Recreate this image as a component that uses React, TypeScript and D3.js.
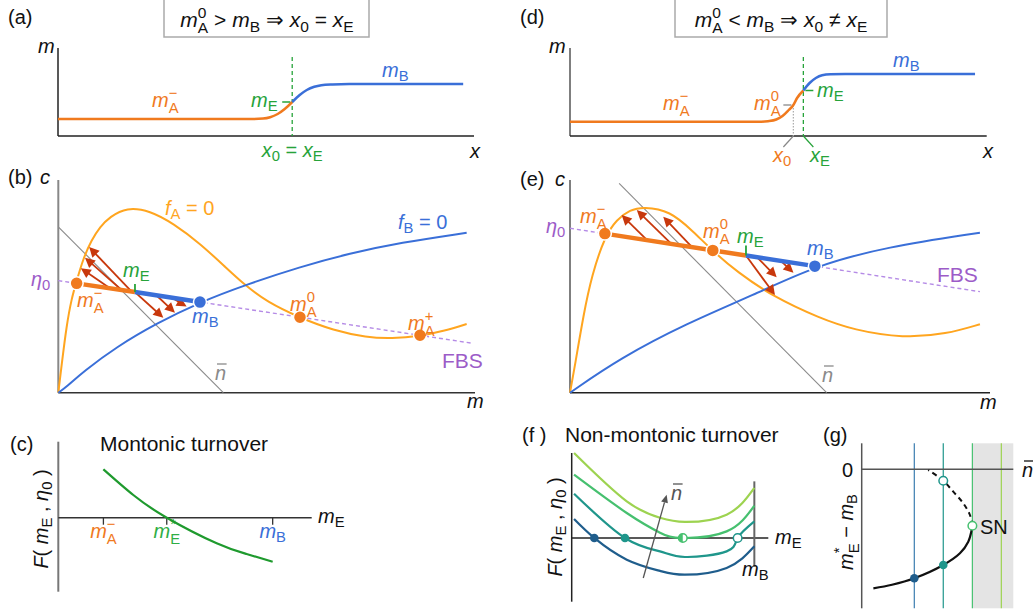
import React from 'react';
import * as d3 from 'd3';

type P = [number, number];

// (a) profile m(x), units: x 0..100 along axis, m in px above axis
const aOrange: P[] = [[0, 17], [47, 17], [49.3, 17.4], [51, 18.8], [52.8, 22], [54.5, 27], [56.3, 34]];
const aBlue: P[] = [[56.3, 34], [58.1, 41], [59.8, 46], [61.6, 49.2], [63.3, 50.8], [66, 51.6], [70, 52], [97.4, 52]];

// (d) profile
const dOrange: P[] = [[0, 14.3], [46, 14.3], [47.5, 14.8], [49.5, 16.5], [51, 20], [52.5, 26], [53.6, 31], [54.5, 38], [56, 45.5]];
const dBlue: P[] = [[56, 45.5], [57.5, 53], [59, 58], [60.5, 60.8], [62.5, 61.8], [66, 62], [97.2, 62]];
const dX0 = 53.6, dXE = 56, dMA0 = 31, dME = 45.5;

// (b) phase plane
const bFA: P[] = [[0, 0], [0.8, 13], [2, 31.8], [3.2, 44.4], [4.4, 52.5], [6, 63.2], [8, 71.8], [10, 78], [12.4, 82.7], [16.4, 87.2], [22, 85.6], [27.6, 79.6], [34, 70.2], [40.4, 58.5], [44.8, 50.6], [50, 42.8], [58, 35.2], [66, 29.3], [74, 26.0], [80, 25.5], [86.8, 26.6], [92.4, 28.9], [98, 32.3]];
const bFB: P[] = [[0, 0], [2, 2.8], [6, 9.9], [14, 21.6], [23.6, 32.6], [34, 42.6], [44.8, 50.6], [58, 59.2], [70, 65.5], [82, 70.5], [98, 75.2]];
const bFBS: P[] = [[0, 52.7], [99.5, 23.2]];
const bNbar: P[] = [[0, 78], [39.6, 0]];
const bMAm: P = [4.4, 51.4], bME: P = [18.4, 47.3], bMB: P = [34, 42.6], bMA0: P = [58, 35.5], bMAp: P = [86.8, 27];
const bArrUp = [[17.6, 47.5, 7.4, 68.5], [15.2, 48.3, 6.4, 63.5], [12.4, 49.1, 5.4, 58.5]];
const bArrDown = [[18.4, 47.3, 25.2, 35.2], [23.6, 45.7, 28.0, 37.6], [27.3, 44.6, 30.8, 40.5]];

// (e) phase plane
const eFA: P[] = [[0, 0], [1.2, 13], [3.2, 36.5], [5.2, 55.3], [8.3, 73.5], [11.1, 81.4], [14.3, 86], [17.5, 87.4], [23.8, 85.6], [29.4, 75.7], [34, 66.6], [39.7, 56.9], [48.4, 45.1], [59.5, 35], [67.5, 29.5], [79.4, 25.6], [89.7, 27.6], [97.6, 32.2]];
const eFB: P[] = [[0, 0], [11.9, 16.2], [27.8, 32.6], [43.7, 45.9], [58.3, 59.6], [75.4, 68.6], [97.6, 75.2]];
const eFBS: P[] = [[0, 77.3], [97.6, 47.5]];
const eNbar: P[] = [[11.7, 98.4], [61.1, 0]];
const eMAm: P = [8.3, 74.8], eMA0: P = [34, 66.9], eME: P = [41.9, 64.5], eMB: P = [58.3, 59.5];
const eArrUp = [[18.3, 71.8, 12.3, 83.5], [24.2, 69.9, 15.9, 85.9], [29.0, 68.6, 22.2, 82.7]];
const eArrDown = [[41.9, 64.5, 48.8, 45.9], [44.8, 63.2, 49.2, 54.3], [50.4, 61.6, 53.2, 56.4]];

// (c) monotonic F
const cCurve: P[] = [[17.8, 48.4], [29.6, 22.7], [42.8, 0], [62.5, -25.6], [74.3, -36.3], [84.6, -44]];
const cTicks = [{ v: 17.8, s: 'm_A^−', c: '#f07a1e' }, { v: 42.8, s: 'm_E^*', c: '#2fae45' }, { v: 84.6, s: 'm_B', c: '#3a6fd8' }];

// (f) non-monotonic F for increasing n-bar
const fColors = ['#1f5d8c', '#1f968b', '#46c06f', '#9dd350'];
const fCurves: P[][] = [
  [[1.2, 17.9], [11.5, 0], [28, -20.4], [44.9, -31], [57.6, -34.6], [78.8, -28.2], [92.9, -7.9]],
  [[1.2, 41.7], [27.1, 0], [44.9, -12.6], [57.6, -17.9], [78.8, -12.6], [84.4, 0], [92.9, 15.6]],
  [[1.2, 59.6], [28, 23.5], [44.9, 5], [56.5, 0], [78.8, 6.2], [92.9, 30.4]],
  [[1.2, 80], [28, 34.5], [44.9, 19], [57.6, 15.1], [78.8, 21.9], [92.9, 47.1]],
];
const fDots = [{ x: 11.5, i: 0, t: 'fill' }, { x: 27.1, i: 1, t: 'fill' }, { x: 56.5, i: 2, t: 'half' }, { x: 84.4, i: 1, t: 'open' }];
const fArrow = [36.4, -37.7, 48.3, 40.8];
const fMB = [92.9, 53.3, -27];

// (g) bifurcation
const gLines = [34.7, 53.8, 73.0, 92.1];
const gSolid: P[] = [[7.7, -119], [20, -115.5], [34.7, -109], [53.8, -95.7], [64.8, -84], [70.3, -72.4], [72.5, -61], [73.0, -56.4]];
const gDashed: P[] = [[73.0, -56.4], [71.4, -45.7], [67.0, -34], [60.4, -22.4], [53.8, -11.4], [43.9, -0.7]];
const gDots = [{ x: 34.7, y: -109, i: 0, open: false }, { x: 53.8, y: -95.7, i: 1, open: false }, { x: 73.0, y: -56.4, i: 2, open: true }, { x: 53.8, y: -11.4, i: 1, open: true }];

const ORANGE = '#f07a1e';
const AMBER = '#ffa51f';
const BLUE = '#3a6fd8';
const GREEN = '#27a33a';
const PURPLE = '#9c5cc8';
const PURPLE_L = '#b58be6';
const RED = '#c8380c';
const GRAY = '#8a8a8a';
const FONT = '"Liberation Sans", Arial, sans-serif';

const W: Record<string, number> = { A: 0.667, B: 0.667, E: 0.667, '0': 0.556, '−': 0.584, '+': 0.584, '*': 0.389 };
const wOf = (s: string) => s.split('').reduce((a, ch) => a + (W[ch] ?? 0.6), 0);
const ITAL = /[mxcfFnη]/;

// tiny math markup: _x subscript, ^x superscript, italic for variable letters
function tex(src: string, fs: number) {
  const ss = fs * 0.74;
  const nodes: React.ReactNode[] = [];
  let i = 0, cur = 0, pend = 0, k = 0;
  const emit = (t: string, size: number, y: number, italic: boolean, dx = 0) => {
    const dy = y - cur;
    cur = y;
    const ddx = dx + pend;
    nodes.push(
      <tspan key={k++} dx={ddx || undefined} dy={dy || undefined} fontSize={size} fontStyle={italic ? 'italic' : 'normal'}>{t}</tspan>
    );
    pend = 0;
  };
  const read = () => {
    if (src[i] === '{') { const j = src.indexOf('}', i); const t = src.slice(i + 1, j); i = j + 1; return t; }
    return src[i++];
  };
  while (i < src.length) {
    const c = src[i];
    if (c === '_' || c === '^') {
      i++;
      let sub: string | null = null, sup: string | null = null;
      if (c === '_') sub = read(); else sup = read();
      if (src[i] === '_' || src[i] === '^') { const c2 = src[i++]; if (c2 === '_') sub = read(); else sup = read(); }
      if (sub && sup) {
        emit(sub, ss, fs * 0.3, false);
        const ws = wOf(sub) * ss, wp = wOf(sup) * ss;
        emit(sup, ss, -fs * 0.45, false, -ws);
        if (ws > wp) pend = ws - wp;
      } else if (sub) emit(sub, ss, fs * 0.22, false);
      else if (sup) emit(sup, ss, -fs * 0.42, false);
    } else {
      let j = i;
      const it = ITAL.test(c);
      while (j < src.length && src[j] !== '_' && src[j] !== '^' && ITAL.test(src[j]) === it) j++;
      emit(src.slice(i, j), fs, 0, it);
      i = j;
    }
  }
  return nodes;
}

const T = ({ x, y, s, size = 20, fill = '#111', anchor = 'start' }: any) => (
  <text x={x} y={y} fontSize={size} fill={fill} textAnchor={anchor} style={{ whiteSpace: 'pre' }}>{tex(s, size)}</text>
);

const NBar = ({ x, y, size = 20, fill = GRAY }: any) => (
  <g>
    <text x={x} y={y} fontSize={size} fontStyle="italic" fill={fill}>n</text>
    <line x1={x + size * 0.1} x2={x + size * 0.58} y1={y - size * 0.8} y2={y - size * 0.8} stroke={fill} strokeWidth={1.3} />
  </g>
);

const Arrow = ({ x1, y1, x2, y2 }: any) => {
  const dx = x2 - x1, dy = y2 - y1, L = Math.hypot(dx, dy), ux = dx / L, uy = dy / L;
  const hl = 10, hw = 5;
  const bx = x2 - ux * hl, by = y2 - uy * hl;
  return (
    <g>
      <line x1={x1} y1={y1} x2={bx + ux} y2={by + uy} stroke={RED} strokeWidth={1.8} />
      <polygon points={`${x2},${y2} ${bx - uy * hw},${by + ux * hw} ${bx + uy * hw},${by - ux * hw}`} fill={RED} />
    </g>
  );
};

const Arrow0 = ({ x1, y1, x2, y2 }: any) => {
  const dx = x2 - x1, dy = y2 - y1, L = Math.hypot(dx, dy), ux = dx / L, uy = dy / L;
  const bx = x2 - ux * 8, by = y2 - uy * 8;
  return (
    <g>
      <line x1={x1} y1={y1} x2={bx} y2={by} stroke="#555" strokeWidth={1.3} />
      <polygon points={`${x2},${y2} ${bx - uy * 3.5},${by + ux * 3.5} ${bx + uy * 3.5},${by - ux * 3.5}`} fill="#555" />
    </g>
  );
};

const Dot = ({ x, y, c, r = 6.5 }: any) => <circle cx={x} cy={y} r={r} fill={c} stroke="#fff" strokeWidth={1.5} />;

const App: React.FC = () => {
  const xA = d3.scaleLinear([0, 100], [58, 474]);
  const yA = d3.scaleLinear([0, 88], [136, 48]);
  const xD = d3.scaleLinear([0, 100], [570, 986.7]);
  const yD = yA;
  const xB = d3.scaleLinear([0, 100], [58.3, 475]);
  const yB = d3.scaleLinear([0, 100], [392.7, 180]);
  const xE = d3.scaleLinear([0, 100], [570, 990]);
  const yE = yB;
  const xC = d3.scaleLinear([0, 100], [58.3, 311.7]);
  const yC = d3.scaleLinear([-74, 76], [591.7, 441.7]);
  const xF = d3.scaleLinear([0, 100], [571.7, 768.3]);
  const yF = d3.scaleLinear([-60, 80], [601.7, 453]);
  const xG = d3.scaleLinear([0, 100], [861.7, 1013.3]);
  const yG = d3.scaleLinear([-139, 26], [608.3, 443.3]);

  const mk = (xs: any, ys: any, curve: any = d3.curveCatmullRom) =>
    d3.line<P>().x(d => xs(d[0])).y(d => ys(d[1])).curve(curve);

  const lineA = mk(xA, yA, d3.curveMonotoneX);
  const lineD = mk(xD, yD, d3.curveMonotoneX);
  const lineB = mk(xB, yB, d3.curveBasis);
  const lineE = mk(xE, yE, d3.curveBasis);
  const lineC = mk(xC, yC, d3.curveNatural);
  const lineF = mk(xF, yF, d3.curveNatural);
  const lineG = mk(xG, yG);
  const straightB = mk(xB, yB, d3.curveLinear);
  const straightE = mk(xE, yE, d3.curveLinear);

  const phase = (xs: any, ys: any, line: any, straight: any, fa: P[], fb: P[], fbs: P[], nb: P[], up: number[][], down: number[][]) => (
    <g>
      <path d={straight(nb)!} fill="none" stroke={GRAY} strokeWidth={1.1} />
      <path d={straight(fbs)!} fill="none" stroke={PURPLE_L} strokeWidth={1.4} strokeDasharray="4,3" />
      <path d={line(fa)!} fill="none" stroke={AMBER} strokeWidth={2} />
      <path d={line(fb)!} fill="none" stroke={BLUE} strokeWidth={2} />
      {up.map((a, i) => <Arrow key={'u' + i} x1={xs(a[0])} y1={ys(a[1])} x2={xs(a[2])} y2={ys(a[3])} />)}
      {down.map((a, i) => <Arrow key={'d' + i} x1={xs(a[0])} y1={ys(a[1])} x2={xs(a[2])} y2={ys(a[3])} />)}
    </g>
  );

  return (
    <svg width={1033} height={612} style={{ position: 'absolute', left: 0, top: 0, fontFamily: FONT }}>
      <rect width={1033} height={612} fill="#fff" />

      {/* ---------- (a) ---------- */}
      <text x={8} y={24} fontSize={20} fill="#111">(a)</text>
      <rect x={164} y={-2} width={205} height={39} fill="#fff" stroke="#aaa" strokeWidth={1.5} />
      <T x={267} y={27} s="m_A^0 > m_B ⇒ x_0 = x_E" size={21} anchor="middle" />
      <line x1={xA(0)} x2={xA(0)} y1={48} y2={136} stroke="#222" strokeWidth={1.5} />
      <line x1={xA(0)} x2={474} y1={136} y2={136} stroke="#222" strokeWidth={1.5} />
      <T x={38} y={53} s="m" />
      <T x={470} y={158} s="x" />
      <line x1={xA(56.3)} x2={xA(56.3)} y1={57} y2={136} stroke={GREEN} strokeWidth={1.3} strokeDasharray="4,3" />
      <path d={lineA(aOrange)!} fill="none" stroke={ORANGE} strokeWidth={2.5} />
      <path d={lineA(aBlue)!} fill="none" stroke={BLUE} strokeWidth={2.5} />
      <line x1={xA(56.3) - 10} x2={xA(56.3) - 2} y1={yA(34)} y2={yA(34)} stroke={GREEN} strokeWidth={1.5} />
      <T x={152} y={107} s="m_A^−" fill={ORANGE} />
      <T x={251} y={107} s="m_E" fill={GREEN} />
      <T x={382} y={77} s="m_B" fill={BLUE} />
      <T x={xA(56.3)} y={157} s="x_0 = x_E" fill={GREEN} anchor="middle" />

      {/* ---------- (d) ---------- */}
      <text x={520} y={24} fontSize={20} fill="#111">(d)</text>
      <rect x={675} y={-2} width={212} height={39} fill="#fff" stroke="#aaa" strokeWidth={1.5} />
      <T x={781} y={27} s="m_A^0 < m_B ⇒ x_0 ≠ x_E" size={21} anchor="middle" />
      <line x1={xD(0)} x2={xD(0)} y1={48} y2={136} stroke="#555" strokeWidth={1.5} />
      <line x1={xD(0)} x2={986.7} y1={136} y2={136} stroke="#222" strokeWidth={1.5} />
      <T x={549} y={53} s="m" />
      <T x={983} y={158} s="x" />
      <line x1={xD(dXE)} x2={xD(dXE)} y1={57} y2={136} stroke={GREEN} strokeWidth={1.3} strokeDasharray="4,3" />
      <line x1={xD(dX0)} x2={xD(dX0)} y1={yD(dMA0)} y2={136} stroke="#aaa" strokeWidth={1.2} strokeDasharray="1.5,1.5" />
      <path d={lineD(dOrange)!} fill="none" stroke={ORANGE} strokeWidth={2.5} />
      <path d={lineD(dBlue)!} fill="none" stroke={BLUE} strokeWidth={2.5} />
      <line x1={xD(dX0) - 10} x2={xD(dX0) - 2} y1={yD(dMA0)} y2={yD(dMA0)} stroke="#999" strokeWidth={1.5} />
      <line x1={xD(dXE) + 2} x2={xD(dXE) + 10} y1={yD(dME)} y2={yD(dME)} stroke={GREEN} strokeWidth={1.5} />
      <line x1={xD(dX0)} x2={xD(dX0) - 10} y1={136} y2={147} stroke="#888" strokeWidth={1.2} />
      <line x1={xD(dXE)} x2={xD(dXE) + 10} y1={136} y2={147} stroke={GREEN} strokeWidth={1.2} />
      <T x={663} y={110} s="m_A^−" fill={ORANGE} />
      <T x={754} y={110} s="m_A^0" fill={ORANGE} />
      <T x={817} y={97} s="m_E" fill={GREEN} />
      <T x={893} y={67} s="m_B" fill={BLUE} />
      <T x={782} y={162} s="x_0" fill={ORANGE} anchor="middle" />
      <T x={810} y={162} s="x_E" fill={GREEN} />

      {/* ---------- (b) ---------- */}
      <text x={8} y={184} fontSize={20} fill="#111">(b)</text>
      <T x={40} y={184} s="c" />
      <line x1={xB(0)} x2={xB(0)} y1={180} y2={yB(0)} stroke="#888" strokeWidth={2} />
      <line x1={xB(0)} x2={475} y1={yB(0)} y2={yB(0)} stroke="#333" strokeWidth={1.5} />
      <T x={467} y={408} s="m" />
      {phase(xB, yB, lineB, straightB, bFA, bFB, bFBS, bNbar, bArrUp, bArrDown)}
      <path d={straightB([bMAm, bME])!} stroke={ORANGE} strokeWidth={4.5} fill="none" />
      <path d={straightB([bME, bMB])!} stroke={BLUE} strokeWidth={4.5} fill="none" />
      <line x1={xB(bME[0])} x2={xB(bME[0])} y1={yB(bME[1]) - 8} y2={yB(bME[1])} stroke={GREEN} strokeWidth={1.8} />
      <Dot x={xB(bMAm[0])} y={yB(bMAm[1])} c={ORANGE} />
      <Dot x={xB(bMB[0])} y={yB(bMB[1])} c={BLUE} />
      <Dot x={xB(bMA0[0])} y={yB(bMA0[1])} c={ORANGE} />
      <Dot x={xB(bMAp[0])} y={yB(bMAp[1])} c={ORANGE} />
      <T x={165} y={215} s="f_A = 0" fill={AMBER} />
      <T x={398} y={229} s="f_B = 0" fill={BLUE} />
      <T x={31} y={286} s="η_0" fill={PURPLE} />
      <T x={77} y={307} s="m_A^−" fill={ORANGE} />
      <T x={123} y={277} s="m_E" fill={GREEN} />
      <T x={192} y={323} s="m_B" fill={BLUE} />
      <T x={290} y={311} s="m_A^0" fill={ORANGE} />
      <T x={408} y={330} s="m_A^+" fill={ORANGE} />
      <text x={442} y={368} fontSize={21} fill={PURPLE}>FBS</text>
      <NBar x={215} y={380} />

      {/* ---------- (e) ---------- */}
      <text x={520} y={186} fontSize={20} fill="#111">(e)</text>
      <T x={555} y={186} s="c" />
      <line x1={xE(0)} x2={xE(0)} y1={180} y2={yE(0)} stroke="#555" strokeWidth={1.5} />
      <line x1={xE(0)} x2={990} y1={yE(0)} y2={yE(0)} stroke="#222" strokeWidth={1.5} />
      <T x={980} y={409} s="m" />
      {phase(xE, yE, lineE, straightE, eFA, eFB, eFBS, eNbar, eArrUp, eArrDown)}
      <path d={straightE([eMAm, eME])!} stroke={ORANGE} strokeWidth={4.5} fill="none" />
      <path d={straightE([eME, eMB])!} stroke={BLUE} strokeWidth={4.5} fill="none" />
      <line x1={xE(eME[0])} x2={xE(eME[0])} y1={yE(eME[1]) - 10} y2={yE(eME[1])} stroke={GREEN} strokeWidth={1.8} />
      <Dot x={xE(eMAm[0])} y={yE(eMAm[1])} c={ORANGE} />
      <Dot x={xE(eMA0[0])} y={yE(eMA0[1])} c={ORANGE} />
      <Dot x={xE(eMB[0])} y={yE(eMB[1])} c={BLUE} />
      <T x={546} y={233} s="η_0" fill={PURPLE} />
      <T x={580} y={223} s="m_A^−" fill={ORANGE} />
      <T x={703} y={238} s="m_A^0" fill={ORANGE} />
      <T x={737} y={243} s="m_E" fill={GREEN} />
      <T x={807} y={255} s="m_B" fill={BLUE} />
      <text x={937} y={282} fontSize={21} fill={PURPLE}>FBS</text>
      <NBar x={822} y={382} />

      {/* ---------- (c) ---------- */}
      <text x={10} y={451} fontSize={20} fill="#111">(c)</text>
      <text x={100} y={451} fontSize={21} fill="#111">Montonic turnover</text>
      <line x1={xC(0)} x2={xC(0)} y1={441.7} y2={591.7} stroke="#777" strokeWidth={2} />
      <line x1={xC(0)} x2={311.7} y1={yC(0)} y2={yC(0)} stroke="#333" strokeWidth={1.5} />
      {cTicks.map(t => (
        <g key={t.s}>
          <line x1={xC(t.v)} x2={xC(t.v)} y1={yC(0)} y2={yC(0) + 7} stroke="#333" strokeWidth={1.3} />
          <T x={xC(t.v)} y={538} s={t.s} fill={t.c} anchor="middle" />
        </g>
      ))}
      <path d={lineC(cCurve)!} fill="none" stroke="#1f9a2e" strokeWidth={2.2} />
      <T x={318} y={523} s="m_E" />
      <g transform="translate(48,519) rotate(-90)">
        <T x={0} y={0} s="F( m_E , η_0 )" anchor="middle" />
      </g>

      {/* ---------- (f) ---------- */}
      <text x={522} y={442} fontSize={20} fill="#111">(f )</text>
      <text x={565} y={442} fontSize={21} fill="#111">Non-montonic turnover</text>
      <line x1={xF(0)} x2={xF(0)} y1={453} y2={601.7} stroke="#222" strokeWidth={1.5} />
      <line x1={xF(0)} x2={768.3} y1={yF(0)} y2={yF(0)} stroke="#222" strokeWidth={1.5} />
      <line x1={xF(fMB[0])} x2={xF(fMB[0])} y1={yF(fMB[1])} y2={yF(fMB[2])} stroke="#666" strokeWidth={2} />
      {fCurves.map((c, i) => <path key={i} d={lineF(c)!} fill="none" stroke={fColors[i]} strokeWidth={2.2} />)}
      <Arrow0 x1={xF(fArrow[0])} y1={yF(fArrow[1])} x2={xF(fArrow[2])} y2={yF(fArrow[3])} />
      {fDots.map((d, i) => {
        const cx = xF(d.x), cy = yF(0), col = fColors[d.i];
        if (d.t === 'fill') return <circle key={i} cx={cx} cy={cy} r={4.3} fill={col} />;
        if (d.t === 'open') return <circle key={i} cx={cx} cy={cy} r={4.3} fill="#fff" stroke={col} strokeWidth={1.5} />;
        return (
          <g key={i}>
            <circle cx={cx} cy={cy} r={4.3} fill="#fff" stroke={col} strokeWidth={1.5} />
            <path d={`M${cx},${cy - 4.3} A4.3,4.3 0 0 0 ${cx},${cy + 4.3} Z`} fill={col} />
          </g>
        );
      })}
      <NBar x={671} y={500} fill="#555" />
      <T x={775} y={544} s="m_E" />
      <T x={742} y={576} s="m_B" />
      <g transform="translate(562,527) rotate(-90)">
        <T x={0} y={0} s="F( m_E , η_0 )" anchor="middle" />
      </g>

      {/* ---------- (g) ---------- */}
      <text x={823} y={442} fontSize={20} fill="#111">(g)</text>
      <rect x={xG(73)} y={443.3} width={1013.3 - xG(73)} height={165} fill="#e4e4e4" />
      {gLines.map((v, i) => (
        <line key={i} x1={xG(v)} x2={xG(v)} y1={443.3} y2={608.3} stroke={i === 0 ? '#3b7db0' : fColors[i]} strokeWidth={1.2} />
      ))}
      <line x1={xG(0)} x2={xG(0)} y1={443.3} y2={608.3} stroke="#555" strokeWidth={1.5} />
      <line x1={xG(0)} x2={1013.3} y1={yG(0)} y2={yG(0)} stroke="#555" strokeWidth={1.5} />
      <path d={lineG(gSolid)!} fill="none" stroke="#111" strokeWidth={2.2} />
      <path d={lineG(gDashed)!} fill="none" stroke="#111" strokeWidth={2} strokeDasharray="5,4" />
      {gDots.map((d, i) => (
        <circle key={i} cx={xG(d.x)} cy={yG(d.y)} r={4.3} fill={d.open ? '#fff' : fColors[d.i]} stroke={d.open ? fColors[d.i] : 'none'} strokeWidth={1.5} />
      ))}
      <text x={853} y={477} fontSize={20} fill="#111" textAnchor="end">0</text>
      <NBar x={1022} y={477} fill="#111" />
      <text x={980} y={534} fontSize={20} fill="#111">SN</text>
      <g transform="translate(853,532) rotate(-90)">
        <T x={0} y={0} s="m_E^* − m_B" anchor="middle" />
      </g>
    </svg>
  );
};

export default App;
